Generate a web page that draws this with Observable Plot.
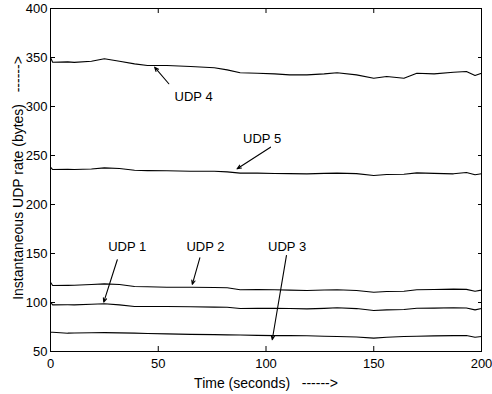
<!DOCTYPE html>
<html>
<head>
<meta charset="utf-8">
<script src="https://cdn.jsdelivr.net/npm/d3@7"></script>
<script src="https://cdn.jsdelivr.net/npm/@observablehq/plot@0.6"></script>
<style>
  html, body { margin: 0; padding: 0; background: #fff; }
  #chart { width: 492px; height: 394px; }
</style>
</head>
<body>
<div id="chart"></div>
<script>
// Time samples (seconds)
const time = [0, 1, 8, 11, 19, 25, 32, 39, 45, 54, 65, 76, 82, 88, 96, 104, 111, 119, 127, 133, 142, 150, 156, 164, 170, 178, 187, 193, 197, 200];
// Instantaneous UDP rate (bytes) per flow
const udp4 = [350, 345.2, 345.5, 345, 346.2, 348.7, 346.2, 343.5, 341.8, 341.8, 340.8, 339.5, 337.4, 334.4, 334, 333.3, 332.3, 332.3, 333.3, 334.4, 332.3, 328.9, 330.6, 328.9, 334, 333.3, 335, 335.7, 331.6, 334];
const udp5 = [238.1, 235.7, 235.9, 235.7, 236.3, 237.4, 236.7, 235, 234.6, 234.4, 234, 234, 233.3, 232, 232, 231.7, 231.5, 231.3, 231.8, 232, 231.5, 229.6, 230.6, 230.8, 232.3, 231.8, 231.3, 232.7, 230.3, 231.3];
const udp2 = [120.7, 117.3, 117.5, 117.6, 118.3, 119, 118.3, 116.3, 116, 115.6, 115.6, 115.3, 115, 113, 113.2, 113, 112.6, 112.2, 112.8, 113, 112.3, 110.5, 111.2, 111.5, 113, 113.2, 113.6, 113.4, 111.5, 112.6];
const udp1 = [100.3, 97.6, 97.7, 97.6, 98.2, 98.7, 97.6, 95.9, 95.9, 95.9, 95.7, 95.3, 95.2, 93.9, 94, 94.2, 93.9, 93.5, 94, 94.6, 93.8, 91.8, 92.5, 92.9, 94.2, 94.3, 94.6, 94.4, 92.5, 93.9];
const udp3 = [69.7, 69.7, 68.7, 68.9, 69.2, 69.3, 69.0, 68.7, 68.3, 68, 67.5, 67.2, 67, 66.8, 66.5, 66.2, 66.3, 66, 65.5, 65.3, 64.8, 63.6, 64.5, 65.3, 65.6, 65.9, 66.2, 66.3, 64.6, 65.3];

const seriesNames = ["UDP 1", "UDP 2", "UDP 3", "UDP 4", "UDP 5"];
const seriesValues = [udp1, udp2, udp3, udp4, udp5];

// Tick values
const xTicks = [0, 50, 100, 150, 200];
const yTicks = [50, 100, 150, 200, 250, 300, 350, 400];

// Annotations: label positions and arrow tail/head in data units
const annLabels = ["UDP 4", "UDP 5", "UDP 1", "UDP 2", "UDP 3"];
const annLabelT = [66.4, 98.2, 35.6, 71.9, 109.8];
const annLabelV = [309.5, 267, 156.4, 156.4, 156.4];
const arrowT1 = [54.9, 102.1, 31, 69.3, 109.5];
const arrowV1 = [323.2, 258.5, 143.6, 145.6, 148];
const arrowT2 = [48.3, 86.6, 24.7, 65.8, 102.9];
const arrowV2 = [340.1, 236.4, 100.3, 118.4, 62];

const xLabel = "Time (seconds)   ------>";
const yLabel = "Instantaneous UDP rate (bytes)   ------>";

// Build tables
const lineData = [];
seriesNames.forEach((name, i) => {
  time.forEach((t, j) => lineData.push({series: name, t, v: seriesValues[i][j]}));
});
const ann = annLabels.map((label, i) => ({
  label, lt: annLabelT[i], lv: annLabelV[i],
  x1: arrowT1[i], y1: arrowV1[i], x2: arrowT2[i], y2: arrowV2[i]
}));

const chart = Plot.plot({
  width: 492,
  height: 394,
  marginLeft: 50,
  marginRight: 11,
  marginTop: 8,
  marginBottom: 43,
  style: {fontFamily: "'Liberation Sans', Arial, Helvetica, sans-serif", fontSize: "13px", background: "#fff", color: "#000"},
  x: {domain: [0, 200]},
  y: {domain: [50, 400]},
  marks: [
    Plot.frame({stroke: "#000", strokeWidth: 1}),
    Plot.axisX(xTicks, {anchor: "bottom", tickSize: -5, tickPadding: 12, label: null, fontSize: 13}),
    Plot.axisX(xTicks, {anchor: "top", tickSize: -4, tickFormat: () => "", label: null}),
    Plot.axisY(yTicks, {anchor: "left", tickSize: -5, tickPadding: 8, label: null, fontSize: 13}),
    Plot.axisY(yTicks, {anchor: "right", tickSize: -4, tickFormat: () => "", label: null}),
    Plot.line(lineData, {x: "t", y: "v", z: "series", stroke: "#000", strokeWidth: 1.1}),
    Plot.arrow(ann, {x1: "x1", y1: "y1", x2: "x2", y2: "y2", stroke: "#000", strokeWidth: 1.1, headLength: 6, headAngle: 45}),
    Plot.text(ann, {x: "lt", y: "lv", text: "label", fontSize: 13, fill: "#000", textAnchor: "middle", lineAnchor: "middle"}),
    Plot.text([xLabel], {frameAnchor: "bottom", dy: 32, text: d => d, fontSize: 14, fill: "#000", textAnchor: "middle", lineAnchor: "middle"}),
    Plot.text([yLabel], {frameAnchor: "left", dx: -32, dy: -2, rotate: -90, text: d => d, fontSize: 14, fill: "#000", textAnchor: "middle", lineAnchor: "middle"})
  ]
});
document.getElementById("chart").appendChild(chart);
</script>
</body>
</html>
